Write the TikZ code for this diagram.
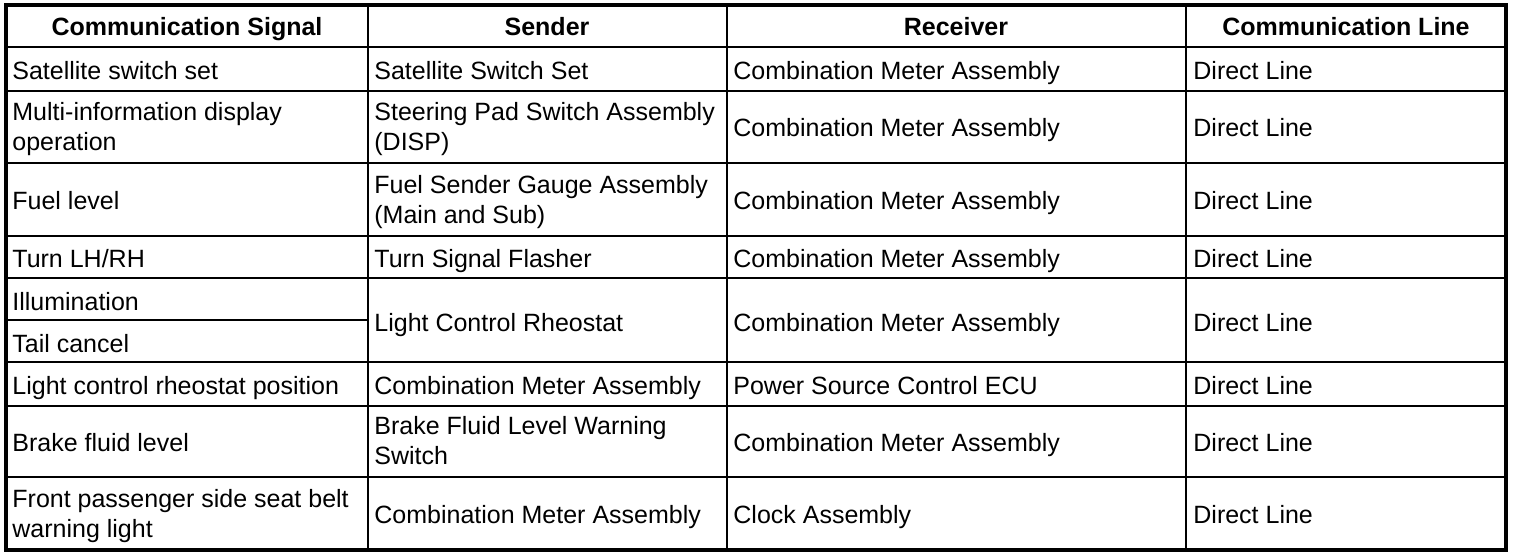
\documentclass[tikz,border=0pt]{standalone}
\usepackage{fontspec}
\setmainfont{Liberation Sans}
\tikzset{
  cell/.style={anchor=west, inner sep=0pt, align=left, font=\fontsize{12.5}{15}\selectfont,
    execute at begin node=\strut, execute at end node=\strut},
  head/.style={inner sep=0pt, font=\fontsize{12.5}{15}\selectfont\bfseries,
    execute at begin node=\strut},
  grid/.style={line width=1pt},
  frame/.style={line width=2pt}
}
\begin{document}
\begin{tikzpicture}[x=0.5pt,y=-0.5pt]
            \useasboundingbox (0,0) rectangle (1520,556);
            %Header
            \node[head] at (187,30)   (hsig)  {Communication Signal};
            \node[head] at (547,30)   (hsnd)  {Sender};
            \node[head] at (956,30)   (hrcv)  {Receiver};
            \node[head] at (1346,30)  (hline) {Communication Line};

            %Column 1
            \node[cell] at (12,74)    (sig1) {Satellite switch set};
            \node[cell] at (12,131)   (sig2) {Multi-information display\\operation};
            \node[cell] at (12,203.5) (sig3) {Fuel level};
            \node[cell] at (12,261)   (sig4) {Turn LH/RH};
            \node[cell] at (12,304)   (sig5) {Illumination};
            \node[cell] at (12,346)   (sig6) {Tail cancel};
            \node[cell] at (12,388.5) (sig7) {Light control rheostat position};
            \node[cell] at (12,445)   (sig8) {Brake fluid level};
            \node[cell] at (12,517.5) (sig9) {Front passenger side seat belt\\warning light};

            %Column 2
            \node[cell] at (374,74)   (snd1) {Satellite Switch Set};
            \node[cell] at (374,131)  (snd2) {Steering Pad Switch Assembly\\(DISP)};
            \node[cell] at (374,203.5)(snd3) {Fuel Sender Gauge Assembly\\(Main and Sub)};
            \node[cell] at (374,261)  (snd4) {Turn Signal Flasher};
            \node[cell] at (374,325)  (snd5) {Light Control Rheostat};
            \node[cell] at (374,388.5)(snd7) {Combination Meter Assembly};
            \node[cell] at (374,445)  (snd8) {Brake Fluid Level Warning\\Switch};
            \node[cell] at (374,517.5)(snd9) {Combination Meter Assembly};

            %Column 3
            \node[cell] at (733,74)   (rcv1) {Combination Meter Assembly};
            \node[cell] at (733,131)  (rcv2) {Combination Meter Assembly};
            \node[cell] at (733,203.5)(rcv3) {Combination Meter Assembly};
            \node[cell] at (733,261)  (rcv4) {Combination Meter Assembly};
            \node[cell] at (733,325)  (rcv5) {Combination Meter Assembly};
            \node[cell] at (733,388.5)(rcv7) {Power Source Control ECU};
            \node[cell] at (733,445)  (rcv8) {Combination Meter Assembly};
            \node[cell] at (733,517.5)(rcv9) {Clock Assembly};

            %Column 4
            \foreach \y/\n in {74/1,131/2,203.5/3,261/4,325/5,388.5/7,445/8,517.5/9}
              \node[cell] at (1193,\y) (line\n) {Direct Line};

            %Lines
            \foreach \y in {47,91,163,235.5,278,362,405.5,477}
              \draw[grid] (5.5,\y) -- (1505.5,\y);
            \draw[grid] (5.5,320) -- (368,320);
            \foreach \x in {368,727,1186}
              \draw[grid] (\x,5.5) -- (\x,550);
            \draw[frame] (5.5,5.5) rectangle (1505.5,550);
\end{tikzpicture}
\end{document}
